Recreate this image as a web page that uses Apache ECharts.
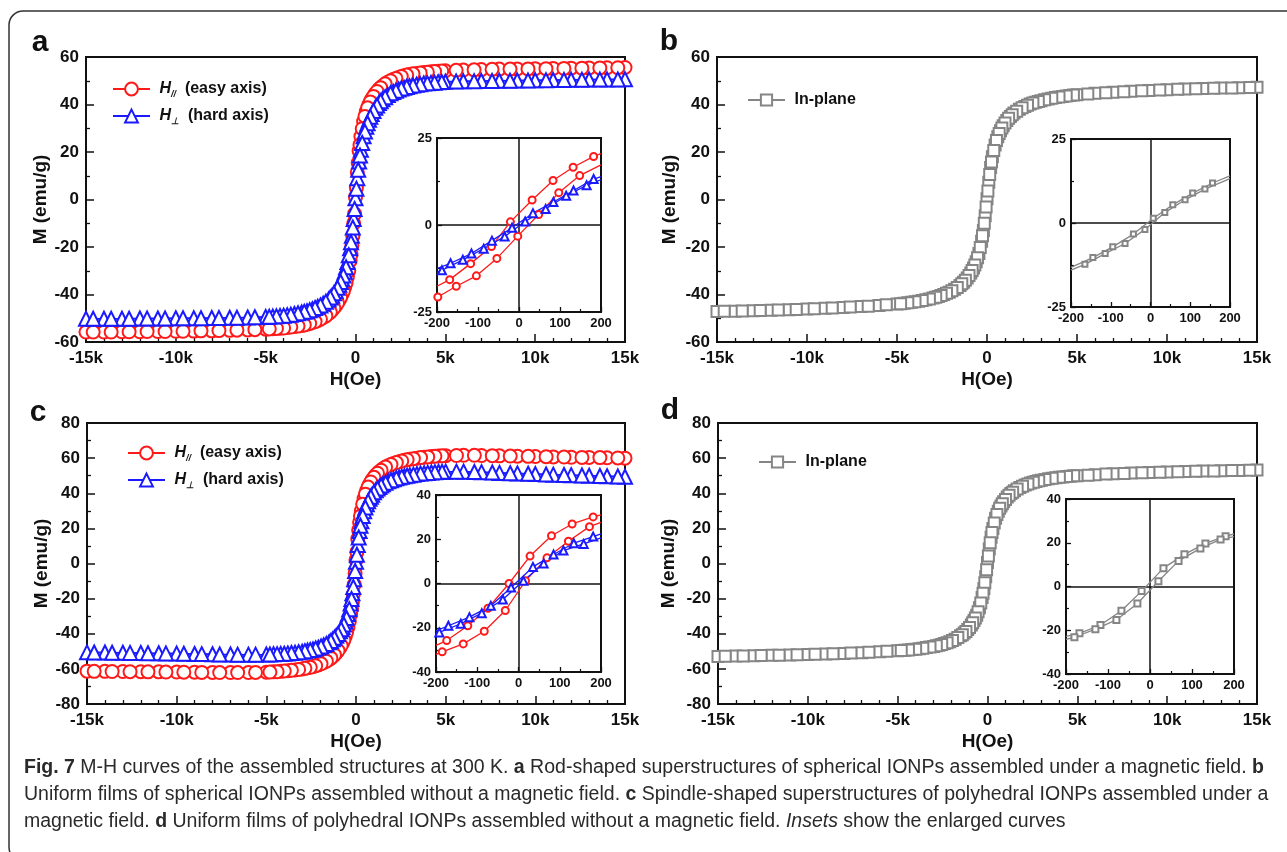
<!DOCTYPE html>
<html><head><meta charset="utf-8">
<script src="https://cdn.jsdelivr.net/npm/echarts@6/dist/echarts.min.js"></script>
<style>html,body{margin:0;padding:0;background:#fff;} #c{width:1287px;height:852px;}</style>
</head><body><div id="c"></div>
<script>
// ---------- main panels: field values (Oe), descending sweep ----------
const hMain = [15000,14000,13000,12000,11000,10000,9000,8000,7000,6000,5000,4600,4200,3800,3400,3000,2700,2400,2100,1800,1500,1300,1100,900,750,600,450,300,200,100,0,-100,-200,-300,-450,-600,-750,-900,-1100,-1300,-1500,-1800,-2100,-2400,-2700,-3000,-3400,-3800,-4200,-4600,-5000,-6000,-7000,-8000,-9000,-10000,-11000,-12000,-13000,-14000,-15000];
// field values (Oe) of the return (ascending) sweep
const hMainUp = [14600,13600,12600,11600,10600,9600,8600,7600,6600,5600,4800,4400,4000,3600,3200,2850,2550,2250,1950,1650,1400,1200,1000,825,675,525,375,250,150,50,-50,-150,-250,-375,-525,-675,-825,-1000,-1200,-1400,-1650,-1950,-2250,-2550,-2850,-3200,-3600,-4000,-4400,-4800,-5600,-6600,-7600,-8600,-9600,-10600,-11600,-12600,-13600,-14600];

// (a) rod-shaped superstructures, spherical IONPs
const mRodEasy = [55.6,55.5,55.4,55.3,55.2,55.1,55.0,54.9,54.7,54.5,54.2,54.0,53.8,53.5,53.1,52.6,52.1,51.4,50.5,49.4,47.8,46.4,44.6,42.3,40.0,37.0,32.8,26.5,20.5,11.5,1.0,-10.0,-19.5,-25.8,-32.5,-36.8,-39.9,-42.3,-44.7,-46.6,-48.0,-49.7,-50.9,-51.8,-52.5,-53.0,-53.5,-53.9,-54.2,-54.4,-54.6,-54.9,-55.1,-55.3,-55.4,-55.5,-55.6,-55.7,-55.7,-55.8,-55.8];
const mRodEasyUp = [55.5,55.4,55.3,55.2,55.1,55.0,54.9,54.8,54.6,54.4,54.1,53.9,53.6,53.3,52.9,52.4,51.8,51.0,50.0,48.7,47.1,45.5,43.4,41.1,38.6,35.0,29.8,23.0,15.5,5.0,-6.0,-15.5,-23.2,-30.0,-35.0,-38.6,-41.2,-43.6,-45.7,-47.4,-49.0,-50.4,-51.4,-52.2,-52.8,-53.3,-53.7,-54.1,-54.3,-54.5,-54.8,-55.0,-55.2,-55.3,-55.5,-55.6,-55.6,-55.7,-55.8,-55.8];
const mRodHard = [50.6,50.5,50.5,50.4,50.3,50.2,50.1,50.0,49.9,49.8,49.6,49.4,49.1,48.8,48.3,47.7,47.1,46.3,45.3,44.0,42.2,40.6,38.6,36.0,33.6,30.6,26.6,21.0,16.0,9.0,0.5,-8.2,-15.3,-20.5,-26.3,-30.4,-33.5,-35.9,-38.5,-40.5,-42.1,-43.9,-45.2,-46.2,-47.0,-47.6,-48.2,-48.7,-49.0,-49.3,-49.5,-49.7,-49.8,-49.9,-50.0,-50.0,-50.1,-50.1,-50.2,-50.2,-50.2];
const mRodHardUp = [50.5,50.5,50.4,50.3,50.2,50.1,50.0,49.9,49.8,49.7,49.5,49.2,48.9,48.5,48.0,47.4,46.7,45.8,44.7,43.1,41.4,39.6,37.3,34.8,32.1,28.6,23.8,18.5,12.5,4.5,-4.0,-11.8,-18.0,-23.5,-28.5,-32.0,-34.7,-37.2,-39.5,-41.3,-43.0,-44.6,-45.7,-46.6,-47.3,-47.9,-48.5,-48.9,-49.2,-49.4,-49.6,-49.8,-49.9,-50.0,-50.0,-50.1,-50.1,-50.2,-50.2,-50.2];
// (b) uniform films, spherical IONPs
const mSphFilm = [47.3,47.1,46.9,46.7,46.5,46.2,45.9,45.6,45.2,44.7,44.1,43.8,43.4,42.9,42.3,41.6,41.0,40.2,39.2,38.0,36.4,35.0,33.3,31.1,29.0,26.4,23.0,18.0,13.5,7.3,0.3,-6.8,-13.0,-17.6,-22.7,-26.2,-28.8,-30.9,-33.1,-34.8,-36.2,-37.8,-39.0,-40.0,-40.8,-41.5,-42.2,-42.8,-43.3,-43.7,-44.0,-44.6,-45.1,-45.5,-45.8,-46.1,-46.4,-46.6,-46.8,-47.0,-47.2];
const mSphFilmUp = [47.2,47.0,46.8,46.6,46.4,46.1,45.8,45.4,45.0,44.4,44.0,43.6,43.2,42.6,42.0,41.3,40.6,39.7,38.6,37.2,35.7,34.2,32.2,30.1,27.8,24.8,20.6,15.8,10.5,3.6,-3.2,-10.0,-15.3,-20.2,-24.5,-27.6,-29.9,-32.0,-34.0,-35.5,-37.0,-38.4,-39.5,-40.4,-41.2,-41.9,-42.5,-43.1,-43.5,-43.9,-44.3,-44.9,-45.3,-45.7,-46.0,-46.3,-46.5,-46.7,-46.9,-47.1];
// (c) spindle-shaped superstructures, polyhedral IONPs
const mSpinEasy = [60.0,60.2,60.4,60.5,60.7,60.9,61.1,61.3,61.5,61.6,61.4,61.2,60.9,60.5,60.0,59.4,58.8,58.0,57.0,55.7,53.9,52.3,50.3,47.6,45.0,41.6,37.0,30.0,23.5,14.0,2.0,-12.0,-22.0,-29.0,-36.5,-41.5,-45.2,-48.0,-50.9,-53.0,-54.6,-56.4,-57.7,-58.7,-59.4,-60.0,-60.6,-61.0,-61.4,-61.7,-61.9,-62.1,-62.1,-62.0,-61.9,-61.8,-61.7,-61.6,-61.5,-61.4,-61.3];
const mSpinEasyUp = [60.1,60.3,60.4,60.6,60.8,61.0,61.2,61.4,61.6,61.5,61.3,61.1,60.7,60.3,59.7,59.1,58.4,57.5,56.4,54.9,53.1,51.4,49.1,46.4,43.5,39.5,33.8,27.0,19.0,6.5,-5.5,-17.5,-25.8,-33.0,-39.2,-43.5,-46.7,-49.6,-52.0,-53.9,-55.6,-57.1,-58.2,-59.1,-59.7,-60.3,-60.8,-61.2,-61.6,-61.8,-62.0,-62.1,-62.1,-62.0,-61.9,-61.8,-61.7,-61.6,-61.5,-61.4];
const mSpinHard = [49.4,49.7,50.0,50.3,50.6,50.9,51.3,51.6,52.0,52.3,52.3,52.1,51.8,51.4,50.9,50.3,49.7,49.0,48.0,46.8,45.1,43.6,41.7,39.2,36.8,33.8,29.8,24.0,18.5,10.5,1.0,-9.0,-17.0,-22.8,-28.8,-33.0,-36.1,-38.6,-41.2,-43.2,-44.8,-46.6,-47.9,-48.9,-49.6,-50.2,-50.8,-51.2,-51.5,-51.7,-51.8,-51.9,-51.8,-51.7,-51.5,-51.3,-51.1,-51.0,-50.8,-50.7,-50.6];
const mSpinHardUp = [49.5,49.8,50.1,50.4,50.7,51.1,51.4,51.8,52.1,52.3,52.2,52.0,51.6,51.2,50.6,50.0,49.4,48.5,47.4,46.0,44.4,42.7,40.5,38.0,35.4,31.9,27.0,21.5,14.8,5.0,-4.3,-13.4,-20.2,-26.0,-31.0,-34.7,-37.5,-40.1,-42.3,-44.1,-45.8,-47.3,-48.4,-49.3,-49.9,-50.5,-51.0,-51.4,-51.6,-51.8,-51.9,-51.9,-51.8,-51.6,-51.4,-51.2,-51.1,-50.9,-50.8,-50.7];
// (d) uniform films, polyhedral IONPs
const mPolyFilm = [53.2,53.0,52.8,52.6,52.4,52.1,51.8,51.5,51.1,50.6,50.0,49.7,49.3,48.8,48.2,47.4,46.7,45.8,44.7,43.3,41.4,39.8,37.8,35.2,32.8,29.8,25.7,20.0,15.0,8.2,0.5,-7.5,-14.2,-19.3,-25.2,-29.4,-32.5,-35.0,-37.6,-39.6,-41.2,-43.1,-44.5,-45.6,-46.5,-47.2,-47.9,-48.5,-49.0,-49.4,-49.7,-50.3,-50.8,-51.2,-51.5,-51.8,-52.1,-52.3,-52.5,-52.7,-52.9];
const mPolyFilmUp = [53.1,52.9,52.7,52.5,52.3,52.0,51.7,51.3,50.9,50.3,49.9,49.5,49.1,48.5,47.8,47.1,46.3,45.3,44.0,42.4,40.6,38.8,36.5,34.0,31.4,27.9,23.0,17.6,11.8,4.2,-3.6,-11.0,-16.9,-22.5,-27.5,-31.1,-33.8,-36.4,-38.7,-40.5,-42.2,-43.8,-45.1,-46.1,-46.9,-47.6,-48.2,-48.8,-49.2,-49.6,-50.0,-50.6,-51.0,-51.4,-51.7,-52.0,-52.2,-52.4,-52.6,-52.8];

// ---------- insets (low-field enlargement), two branches each ----------
const hInsAEasyUp = [-200,-169,-118,-67,-21,32,83,132,182,200];
const mInsAEasyUp = [-17.6,-15.7,-11.1,-6.2,0.9,7.2,12.8,16.6,19.7,20.5];
const hInsAEasyLo = [-198,-153,-104,-54,-3,48,97,148,200];
const mInsAEasyLo = [-20.7,-17.6,-14.6,-9.6,-3.2,3.0,9.3,14.2,17.3];
const hInsAHardUp = [-200,-167,-116,-66,-17,34,84,133,182,200];
const mInsAHardUp = [-12.5,-11.0,-8.2,-4.5,-0.8,3.4,6.6,9.9,13.2,13.9];
const hInsAHardLo = [-200,-188,-137,-86,-35,15,65,115,165,200];
const mInsAHardLo = [-13.6,-13.0,-10.0,-6.8,-3.3,1.0,4.6,8.4,11.4,13.0];

const hInsBUp = [-200,-145,-95,-43,7,56,106,156,200];
const mInsBUp = [-13.2,-10.3,-7.1,-3.3,1.4,5.4,8.9,11.9,14.0];
const hInsBLo = [-200,-165,-114,-64,-14,36,87,137,200];
const mInsBLo = [-14.0,-12.3,-9.1,-6.1,-1.9,3.1,6.9,10.1,13.2];

const hInsCEasyUp = [-200,-174,-123,-74,-23,28,80,130,181,200];
const mInsCEasyUp = [-28.0,-25.8,-19.1,-11.2,0.0,12.4,21.6,26.9,30.1,31.0];
const hInsCEasyLo = [-200,-185,-134,-83,-32,17,69,121,172,200];
const mInsCEasyLo = [-32.0,-30.9,-27.3,-21.6,-12.2,1.2,11.6,19.1,25.7,27.6];
const hInsCHardUp = [-200,-170,-119,-67,-18,35,85,134,181,200];
const mInsCHardUp = [-21.4,-19.1,-15.2,-10.1,-1.8,7.5,13.1,18.2,21.2,22.4];
const hInsCHardLo = [-200,-192,-140,-89,-38,12,61,109,158,200];
const mInsCHardLo = [-23.4,-22.1,-18.2,-13.4,-7.2,1.2,9.0,14.9,17.9,20.6];

const hInsDUp = [-200,-168,-118,-68,-20,32,82,132,180,200];
const mInsDUp = [-22.8,-21.4,-17.6,-11.1,-2.1,8.4,14.7,19.7,23.0,24.0];
const hInsDLo = [-200,-180,-130,-80,-30,20,68,120,168,200];
const mInsDLo = [-24.2,-23.2,-19.5,-15.3,-7.8,2.4,11.7,17.4,21.5,22.8];

// ---------- tick labels & texts ----------
const mainXTicks = [-15000,-10000,-5000,0,5000,10000,15000];
const mainXTickLabels = ['-15k','-10k','-5k','0','5k','10k','15k'];
const panelLetters = ['a','b','c','d'];
const legendNames = {easy:'(easy axis)', hard:'(hard axis)', inplane:'In-plane'};

const F = '"Liberation Sans", Arial, Helvetica, sans-serif';
const FN = '"Liberation Sans Narrow", "Arial Narrow", "Liberation Sans", Arial, sans-serif';
const INK = '#111';
const RED = '#ff1a1a', BLUE = '#1a1aff', GRAY = '#858585';

const chart = echarts.init(document.getElementById('c'), null, {renderer:'canvas'});

const grids = [
  {left:86, top:57, width:539, height:285},
  {left:717, top:57, width:540, height:285},
  {left:87, top:423, width:538, height:281},
  {left:718, top:423, width:539, height:281},
  {left:437, top:138, width:164, height:174},
  {left:1071, top:139, width:159, height:168},
  {left:436, top:495, width:165, height:177},
  {left:1066, top:499, width:168, height:175}
].map(g => Object.assign({show:true, borderColor:INK, borderWidth:2, backgroundColor:'rgba(0,0,0,0)', containLabel:false}, g));
grids.slice(4).forEach(g => g.backgroundColor = '#fff');

function mainX(i) {
  return {type:'value', gridIndex:i, min:-15000, max:15000, interval:5000,
    axisLine:{show:true, onZero:false, lineStyle:{color:INK, width:2}},
    axisTick:{show:true, inside:true, length:8, lineStyle:{color:INK, width:1.5}},
    minorTick:{show:true, splitNumber:5, length:4, lineStyle:{color:INK, width:1.3}},
    splitLine:{show:false},
    axisLabel:{formatter:v => { const k = mainXTicks.indexOf(v); return k < 0 ? '' : mainXTickLabels[k]; },
      fontSize:17, fontWeight:'bold', color:INK, fontFamily:F, margin:8},
    name:'H(Oe)', nameLocation:'middle', nameGap:28,
    nameTextStyle:{fontSize:19, fontWeight:'bold', color:INK, fontFamily:F}};
}
function mainY(i, lim, gap) {
  return {type:'value', gridIndex:i, min:-lim, max:lim, interval:20,
    axisLine:{show:true, onZero:false, lineStyle:{color:INK, width:2}},
    axisTick:{show:true, inside:true, length:8, lineStyle:{color:INK, width:1.5}},
    minorTick:{show:true, splitNumber:2, length:4, lineStyle:{color:INK, width:1.3}},
    splitLine:{show:false},
    axisLabel:{fontSize:17, fontWeight:'bold', color:INK, fontFamily:F, margin:7},
    name:'M (emu/g)', nameLocation:'middle', nameGap:gap,
    nameTextStyle:{fontSize:19, fontWeight:'bold', color:INK, fontFamily:F}};
}
function insetX(i) {
  return {type:'value', gridIndex:i, min:-200, max:200, interval:100,
    axisLine:{show:true, onZero:false, lineStyle:{color:INK, width:2}},
    axisTick:{show:true, inside:true, length:5, lineStyle:{color:INK, width:1.3}},
    minorTick:{show:true, splitNumber:2, length:3, lineStyle:{color:INK, width:1.2}},
    splitLine:{show:false},
    axisLabel:{fontSize:13, fontWeight:'bold', color:INK, fontFamily:FN, margin:5}};
}
function insetY(i, lim, step) {
  return {type:'value', gridIndex:i, min:-lim, max:lim, interval:step,
    axisLine:{show:true, onZero:false, lineStyle:{color:INK, width:2}},
    axisTick:{show:true, inside:true, length:5, lineStyle:{color:INK, width:1.3}},
    minorTick:{show:true, splitNumber:2, length:3, lineStyle:{color:INK, width:1.2}},
    splitLine:{show:false},
    axisLabel:{fontSize:13, fontWeight:'bold', color:INK, fontFamily:FN, margin:5}};
}

const xAxes = [mainX(0), mainX(1), mainX(2), mainX(3), insetX(4), insetX(5), insetX(6), insetX(7)];
const yAxes = [mainY(0,60,34), mainY(1,60,38), mainY(2,80,36), mainY(3,80,40),
  insetY(4,25,25), insetY(5,25,25), insetY(6,40,20), insetY(7,40,20)];

function mainSeries(name, i, h, m, symbol, size, color, z) {
  return {type:'line', name, xAxisIndex:i, yAxisIndex:i, data:h.map((x,k)=>[x, m[k]]),
    symbol, symbolSize:size, showAllSymbol:true, lineStyle:{color, width:1.5},
    itemStyle:{color, borderWidth:1.6}, z, animation:false, silent:true};
}
const crossLine = {silent:true, symbol:['none','none'], label:{show:false}, animation:false,
  lineStyle:{color:INK, width:1.5, type:'solid'}, emphasis:{disabled:true},
  data:[{xAxis:0},{yAxis:0}]};
function insetSeries(name, i, h, m, symbol, size, color, withCross) {
  const s = {type:'line', name, xAxisIndex:i, yAxisIndex:i, data:h.map((x,k)=>[x, m[k]]),
    symbol, symbolSize:v => (Math.abs(v[0]) >= 200 ? 0 : size), showAllSymbol:true,
    lineStyle:{color, width:1.3}, itemStyle:{color, borderWidth:1.3}, z:5, animation:false, silent:true};
  if (withCross) s.markLine = crossLine;
  return s;
}

const series = [
  mainSeries('easy', 0, hMain, mRodEasy, 'emptyCircle', 13, RED, 3),
  mainSeries('easy', 0, hMainUp, mRodEasyUp, 'emptyCircle', 13, RED, 3),
  mainSeries('hard', 0, hMain, mRodHard, 'emptyTriangle', 14, BLUE, 4),
  mainSeries('hard', 0, hMainUp, mRodHardUp, 'emptyTriangle', 14, BLUE, 4),
  mainSeries('inplane', 1, hMain, mSphFilm, 'emptyRect', 11, GRAY, 3),
  mainSeries('inplane', 1, hMainUp, mSphFilmUp, 'emptyRect', 11, GRAY, 3),
  mainSeries('easy', 2, hMain, mSpinEasy, 'emptyCircle', 13, RED, 3),
  mainSeries('easy', 2, hMainUp, mSpinEasyUp, 'emptyCircle', 13, RED, 3),
  mainSeries('hard', 2, hMain, mSpinHard, 'emptyTriangle', 14, BLUE, 4),
  mainSeries('hard', 2, hMainUp, mSpinHardUp, 'emptyTriangle', 14, BLUE, 4),
  mainSeries('inplane', 3, hMain, mPolyFilm, 'emptyRect', 11, GRAY, 3),
  mainSeries('inplane', 3, hMainUp, mPolyFilmUp, 'emptyRect', 11, GRAY, 3),
  insetSeries('ia-e-up', 4, hInsAEasyUp, mInsAEasyUp, 'emptyCircle', 7, RED, true),
  insetSeries('ia-e-lo', 4, hInsAEasyLo, mInsAEasyLo, 'emptyCircle', 7, RED, false),
  insetSeries('ia-h-up', 4, hInsAHardUp, mInsAHardUp, 'emptyTriangle', 8, BLUE, false),
  insetSeries('ia-h-lo', 4, hInsAHardLo, mInsAHardLo, 'emptyTriangle', 8, BLUE, false),
  insetSeries('ib-up', 5, hInsBUp, mInsBUp, 'emptyRect', 5, GRAY, true),
  insetSeries('ib-lo', 5, hInsBLo, mInsBLo, 'emptyRect', 5, GRAY, false),
  insetSeries('ic-e-up', 6, hInsCEasyUp, mInsCEasyUp, 'emptyCircle', 7, RED, true),
  insetSeries('ic-e-lo', 6, hInsCEasyLo, mInsCEasyLo, 'emptyCircle', 7, RED, false),
  insetSeries('ic-h-up', 6, hInsCHardUp, mInsCHardUp, 'emptyTriangle', 8, BLUE, false),
  insetSeries('ic-h-lo', 6, hInsCHardLo, mInsCHardLo, 'emptyTriangle', 8, BLUE, false),
  insetSeries('id-up', 7, hInsDUp, mInsDUp, 'emptyRect', 6, GRAY, true),
  insetSeries('id-lo', 7, hInsDLo, mInsDLo, 'emptyRect', 6, GRAY, false)
];

const legendRich = {
  i:{fontStyle:'italic', fontWeight:'bold', fontSize:16, fontFamily:F, color:INK, lineHeight:20},
  s:{fontStyle:'italic', fontWeight:'bold', fontSize:9, fontFamily:F, color:INK, lineHeight:8, verticalAlign:'bottom'},
  t:{fontWeight:'bold', fontSize:16, fontFamily:F, color:INK, lineHeight:20}
};
function legendFmt(name) {
  if (name === 'easy') return ' {i|H}{s|//}  {t|' + legendNames.easy + '}';
  if (name === 'hard') return ' {i|H}{s|\u22a5}  {t|' + legendNames.hard + '}';
  return ' {t|' + legendNames.inplane + '}';
}
function legend(left, top, data, h) {
  return {left, top, orient:'vertical', padding:0, itemGap:7, itemWidth:37, itemHeight:h,
    selectedMode:false, data, formatter:legendFmt,
    textStyle:{fontSize:16, fontWeight:'bold', fontFamily:F, color:INK, lineHeight:20, rich:legendRich}};
}

const CAP = '#2a2a2a';
const captionRich = {
  b:{fontWeight:'bold', fontSize:19.5, fontFamily:F, fill:CAP},
  i:{fontStyle:'italic', fontSize:19.5, fontFamily:F, fill:CAP}
};
const captionLines = [
  '{b|Fig. 7} M-H curves of the assembled structures at 300 K. {b|a} Rod-shaped superstructures of spherical IONPs assembled under a magnetic field. {b|b}',
  'Uniform films of spherical IONPs assembled without a magnetic field. {b|c} Spindle-shaped superstructures of polyhedral IONPs assembled under a',
  'magnetic field. {b|d} Uniform films of polyhedral IONPs assembled without a magnetic field. {i|Insets} show the enlarged curves'
];
const letterPos = [[40,43],[669,42],[38,413],[670,411]];
const graphics = [
  {type:'rect', shape:{x:9, y:11, width:1300, height:850, r:14}, style:{fill:'none', stroke:'#333', lineWidth:1.5}, silent:true, z:-1}
];
panelLetters.forEach((t,k) => graphics.push({type:'text', x:letterPos[k][0], y:letterPos[k][1],
  style:{text:t, font:'bold 30px ' + F, fill:INK, align:'center', verticalAlign:'middle'}, silent:true}));
captionLines.forEach((t,k) => graphics.push({type:'text', x:24, y:768 + 27*k,
  style:{text:t, fontSize:19.5, fontFamily:F, fill:CAP, align:'left', verticalAlign:'middle', rich:captionRich}, silent:true}));

chart.setOption({
  animation:false,
  backgroundColor:'#fff',
  grid:grids, xAxis:xAxes, yAxis:yAxes, series,
  legend:[legend(112,79,['easy','hard'],16), legend(747,90,['inplane'],14),
          legend(127,443,['easy','hard'],16), legend(758,452,['inplane'],14)],
  graphic:graphics
});
</script></body></html>
